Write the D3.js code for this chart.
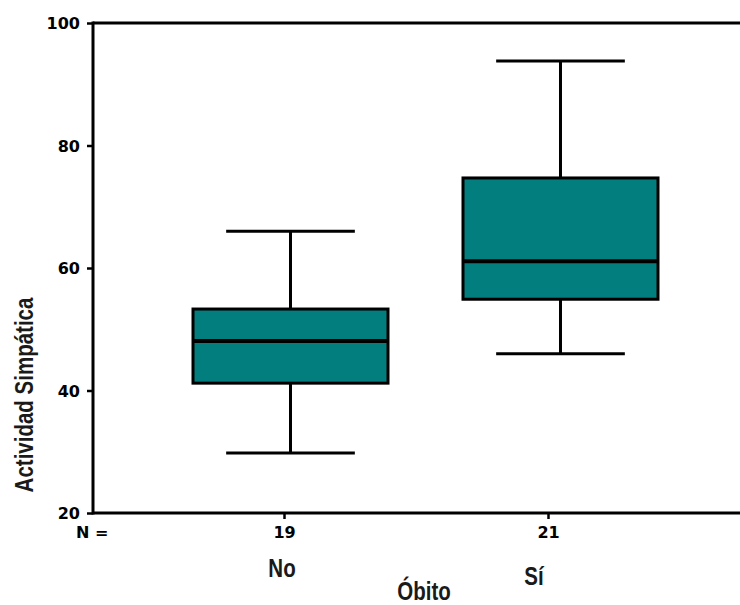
<!DOCTYPE html>
<html>
<head>
<meta charset="utf-8">
<script src="https://cdn.jsdelivr.net/npm/d3@7"></script>
<style>
  body { margin: 0; background: #fff; }
  .tick-lbl { font-family: "DejaVu Sans", sans-serif; font-weight: bold; font-size: 16px; fill: #000; }
  .narrow { font-family: "Liberation Sans", Arial, sans-serif; font-weight: bold; fill: #1a1a1a; font-size: 25px; }
</style>
</head>
<body>
<div id="chart"></div>
<script>
// Box plot data
const categories = ['No', 'Sí'];
const counts = [19, 21];
const lowWhisker = [29.8, 46.0];
const q1 = [41.2, 54.9];
const median = [48.1, 61.1];
const q3 = [53.3, 74.7];
const highWhisker = [66.0, 93.8];
const yTicks = [20, 40, 60, 80, 100];

const width = 740;
const height = 605;
const plotLeft = 93, plotRight = 740, plotTop = 23, plotBottom = 513;
const boxColor = '#037e7e';
const narrowScale = 0.82; // original uses a condensed bold face

const svg = d3.select('#chart')
    .append('svg')
    .attr('width', width)
    .attr('height', height);

const y = d3.scaleLinear().domain([20, 100]).range([plotBottom, plotTop]);

// boxes
const xBox = d3.scaleBand()
    .domain(categories)
    .range([118, 733])
    .paddingInner(0.2778)
    .paddingOuter(0.2778);

// tick positions for N labels (slightly left of box centres in the original)
const xN = d3.scalePoint().domain(categories).range([284, 548]);

const data = categories.map((c, i) => ({
    cat: c, n: counts[i], lo: lowWhisker[i], q1: q1[i], med: median[i], q3: q3[i], hi: highWhisker[i]
}));

// y axis ticks
const yAxis = d3.axisLeft(y)
    .tickValues(yTicks)
    .tickSize(6)
    .tickPadding(7)
    .tickSizeOuter(0);

const gy = svg.append('g')
    .attr('transform', `translate(${plotLeft},0)`)
    .call(yAxis);
gy.select('.domain').remove();
gy.selectAll('.tick line').attr('stroke', '#000').attr('stroke-width', 2.5);
gy.selectAll('.tick text').attr('class', 'tick-lbl').attr('dy', '0.36em');

// x axis ticks with N
const xAxis = d3.axisBottom(xN)
    .tickSize(6)
    .tickPadding(5)
    .tickFormat(d => counts[categories.indexOf(d)]);

const gx = svg.append('g')
    .attr('transform', `translate(0,${plotBottom})`)
    .call(xAxis);
gx.select('.domain').remove();
gx.selectAll('.tick line').attr('stroke', '#000').attr('stroke-width', 2.5);
gx.selectAll('.tick text').attr('class', 'tick-lbl').attr('dy', '0.9em');

// frame lines
svg.append('line').attr('x1', plotLeft).attr('x2', plotLeft).attr('y1', plotTop - 1.5).attr('y2', plotBottom + 1.5)
    .attr('stroke', '#000').attr('stroke-width', 3);
svg.append('line').attr('x1', plotLeft).attr('x2', plotRight).attr('y1', plotTop).attr('y2', plotTop)
    .attr('stroke', '#000').attr('stroke-width', 3);
svg.append('line').attr('x1', plotLeft).attr('x2', plotRight).attr('y1', plotBottom).attr('y2', plotBottom)
    .attr('stroke', '#000').attr('stroke-width', 3);

svg.append('text')
    .attr('class', 'tick-lbl')
    .attr('x', 76)
    .attr('y', 538)
    .text('N =');

// boxes
const g = svg.append('g');
const bw = xBox.bandwidth();
const capW = bw * 0.66;

const box = g.selectAll('g.box')
    .data(data)
    .enter().append('g')
    .attr('class', 'box');

box.append('line')
    .attr('x1', d => xBox(d.cat) + bw / 2)
    .attr('x2', d => xBox(d.cat) + bw / 2)
    .attr('y1', d => y(d.hi))
    .attr('y2', d => y(d.lo))
    .attr('stroke', '#000').attr('stroke-width', 3);

box.append('rect')
    .attr('x', d => xBox(d.cat))
    .attr('width', bw)
    .attr('y', d => y(d.q3))
    .attr('height', d => y(d.q1) - y(d.q3))
    .attr('fill', boxColor)
    .attr('stroke', '#000')
    .attr('stroke-width', 3);

box.append('line')
    .attr('x1', d => xBox(d.cat))
    .attr('x2', d => xBox(d.cat) + bw)
    .attr('y1', d => y(d.med))
    .attr('y2', d => y(d.med))
    .attr('stroke', '#000').attr('stroke-width', 4);

['hi', 'lo'].forEach(k => {
    box.append('line')
        .attr('x1', d => xBox(d.cat) + bw / 2 - capW / 2)
        .attr('x2', d => xBox(d.cat) + bw / 2 + capW / 2)
        .attr('y1', d => y(d[k]))
        .attr('y2', d => y(d[k]))
        .attr('stroke', '#000').attr('stroke-width', 3);
});

// category labels
const catOffset = { 'No': [-2, 577], 'Sí': [-14, 585] };
svg.selectAll('text.cat')
    .data(categories)
    .enter().append('text')
    .attr('class', 'cat narrow')
    .attr('transform', d => `translate(${xN(d) + catOffset[d][0]},${catOffset[d][1]}) scale(${narrowScale},1)`)
    .attr('text-anchor', 'middle')
    .text(d => d);

svg.append('text')
    .attr('class', 'narrow')
    .attr('transform', `translate(424,600) scale(${narrowScale},1)`)
    .attr('text-anchor', 'middle')
    .text('Óbito');

svg.append('text')
    .attr('class', 'narrow')
    .attr('transform', `translate(33,395) rotate(-90) scale(${narrowScale},1)`)
    .attr('text-anchor', 'middle')
    .text('Actividad Simpática');
</script>
</body>
</html>
